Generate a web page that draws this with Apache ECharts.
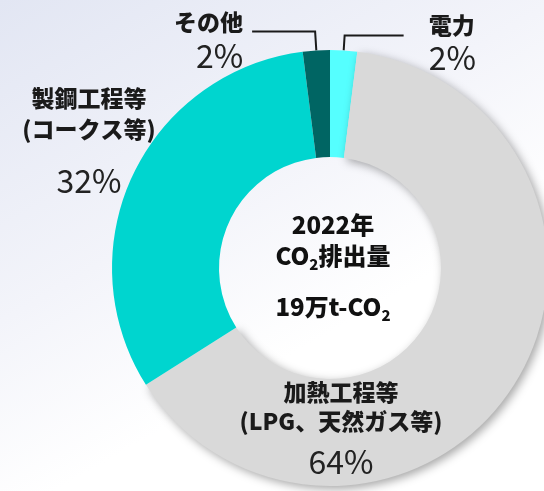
<!DOCTYPE html>
<html>
<head>
<meta charset="utf-8">
<script src="https://cdn.jsdelivr.net/npm/echarts@6/dist/echarts.min.js"></script>
<style>
html, body { margin: 0; padding: 0; }
#chart {
    width: 544px; height: 491px;
    background: linear-gradient(150deg, #e2e6f3 0%, #f3f4fa 40%, #ffffff 65%);
}
</style>
</head>
<body>
<div id="chart"></div>
<script>
// データ
var categories = ['電力', '加熱工程等', '製鋼工程等', 'その他'];
var subLabels = ['', '(LPG、天然ガス等)', '(コークス等)', ''];
var shares = [2, 64, 32, 2];
var centerTitle = ['2022年', '排出量', '19万t-CO'];

var colors = ['#55ffff', '#d9d9d9', '#00d5cf', '#006563'];
var FONT = '"Noto Sans CJK JP", "Noto Sans", sans-serif';

var chart = echarts.init(document.getElementById('chart'));

var richStyle = {
    n: { fontSize: 23, fontWeight: 900, color: '#1a1a1a', fontFamily: FONT, lineHeight: 31 },
    p: { fontSize: 32, color: '#222', fontFamily: FONT, lineHeight: 34 },
    g: { fontSize: 10, lineHeight: 19 }
};

function makeLabel(params) {
    var i = params.dataIndex;
    var s = '{n|' + params.name + '}';
    if (subLabels[i]) s += '\n{n|' + subLabels[i] + '}';
    if (i === 2) s += '\n{g| }';
    if (i === 1) s += '\n{g2| }';
    return s + '\n{p|' + params.value + '%}';
}

// 各項目のラベル設定
var labelCfg = [
    { label: { position: 'outside', distanceToLabelLine: 25, padding: [13, 0, 0, 0] },
      labelLine: { show: true, length: 15, length2: 59 } },
    { label: { position: 'inside' }, labelLine: { show: false },
      itemStyle: { shadowBlur: 10, shadowColor: 'rgba(0,0,0,0.35)', shadowOffsetX: 3, shadowOffsetY: 3 } },
    { label: { position: 'inside' }, labelLine: { show: false } },
    { label: { position: 'outside', distanceToLabelLine: 9, padding: [16, 0, 0, 0] },
      labelLine: { show: true, length: 19, length2: 63 } }
];

var pieData = [];
for (var i = 0; i < categories.length; i++) {
    var item = { name: categories[i], value: shares[i], itemStyle: { color: colors[i] } };
    item.label = labelCfg[i].label;
    item.labelLine = labelCfg[i].labelLine;
    if (labelCfg[i].itemStyle) item.itemStyle = Object.assign(item.itemStyle, labelCfg[i].itemStyle);
    pieData.push(item);
}

var outerRich = Object.assign({}, richStyle, { n: Object.assign({}, richStyle.n, { lineHeight: 32 }) });
var heatRich = Object.assign({}, richStyle, {
    n: Object.assign({}, richStyle.n, { lineHeight: 29 }),
    g2: { fontSize: 8, lineHeight: 9 }
});

var option = {
    animation: false,
    series: [{
        type: 'pie',
        center: [330, 268],
        radius: [111, 218],
        startAngle: 90,
        clockwise: true,
        avoidLabelOverlap: false,
        itemStyle: { borderWidth: 0 },
        label: {
            show: true,
            formatter: makeLabel,
            rich: outerRich
        },
        labelLine: { lineStyle: { color: '#1a1a1a', width: 2 } },
        labelLayout: function (params) {
            if (params.dataIndex === 2) return { x: 89, y: 83, align: 'center', verticalAlign: 'top' };
            if (params.dataIndex === 1) return { x: 341, y: 378, align: 'center', verticalAlign: 'top' };
            return {};
        },
        emphasis: { disabled: true },
        data: pieData
    }],
    graphic: [{
        type: 'text',
        x: 333,
        y: 266,
        silent: true,
        style: {
            text: '{a|' + centerTitle[0] + '}\n{a|CO}{s|2}{a|' + centerTitle[1] + '}\n{g| }\n{a|' + centerTitle[2] + '}{s|2}',
            align: 'center',
            verticalAlign: 'middle',
            rich: {
                a: { fontSize: 24, fontWeight: 900, fill: '#111', fontFamily: FONT, lineHeight: 31 },
                s: { fontSize: 15, fontWeight: 900, fill: '#111', fontFamily: FONT, verticalAlign: 'bottom' },
                g: { fontSize: 10, lineHeight: 20 }
            }
        }
    }]
};
// 加熱工程等は行間が少し狭い
option.series[0].data[1].label = Object.assign({}, option.series[0].data[1].label, { rich: heatRich });
option.series[0].data[2].label = Object.assign({}, option.series[0].data[2].label, { rich: richStyle });

chart.setOption(option);
</script>
</body>
</html>
